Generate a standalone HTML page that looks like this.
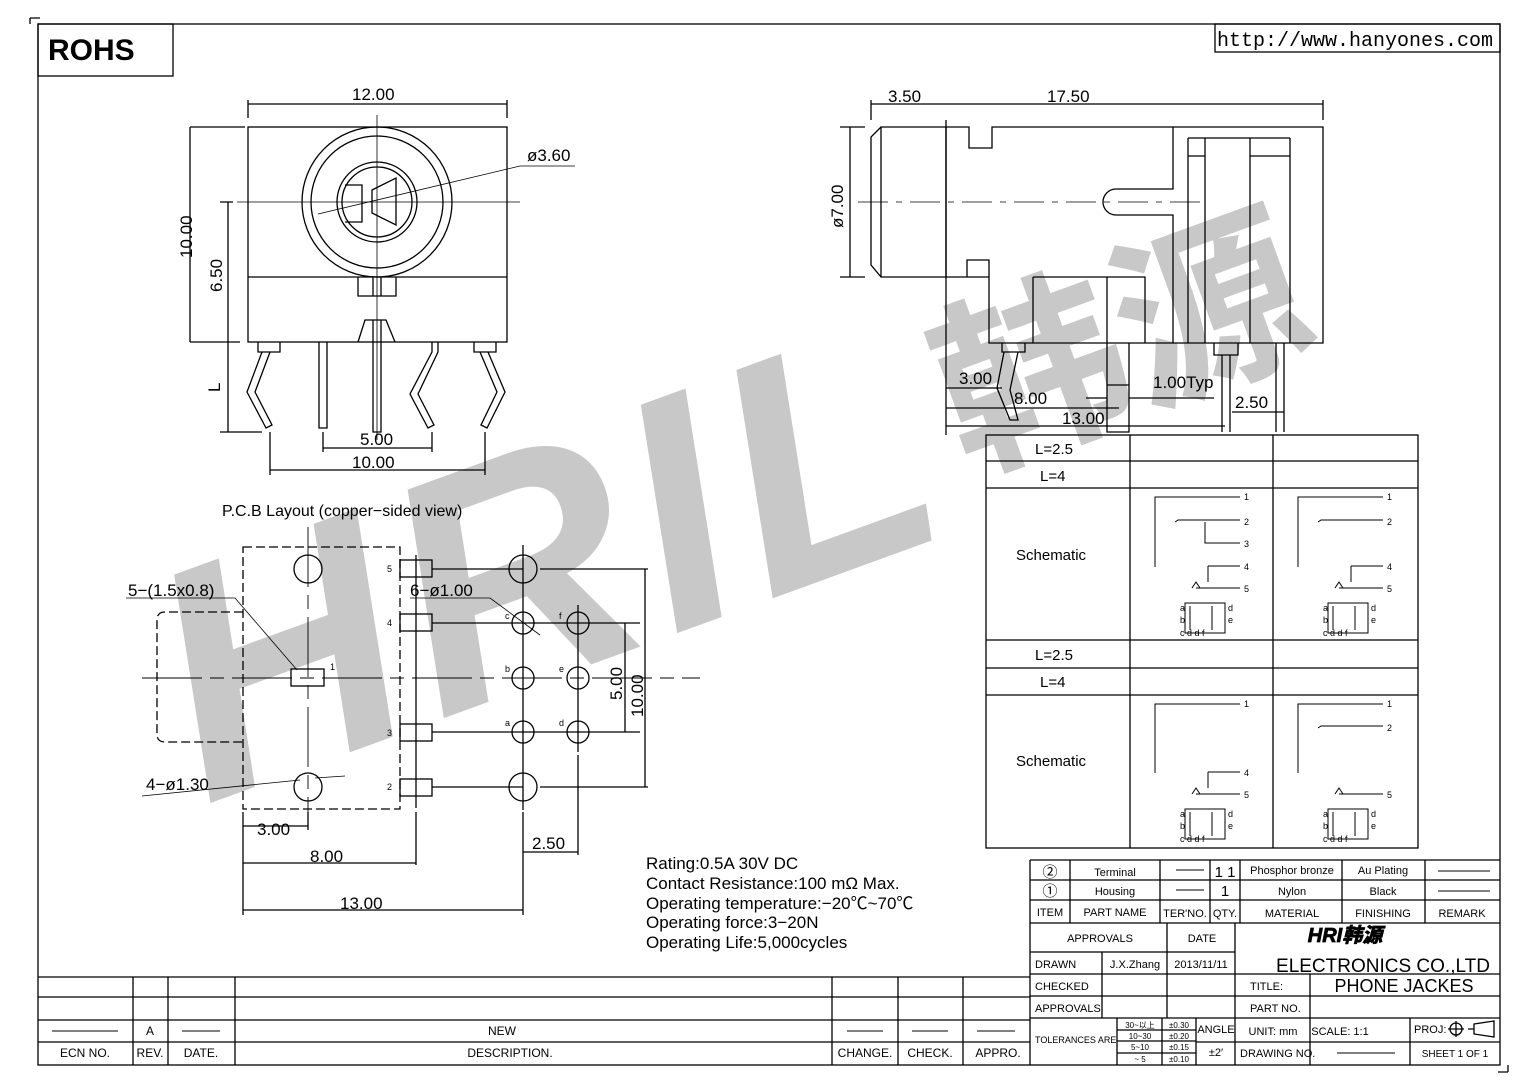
<!DOCTYPE html>
<html><head><meta charset="utf-8"><style>
html,body{margin:0;padding:0;background:#fff}
svg{display:block}
text{font-family:"Liberation Sans","Noto Sans CJK SC",sans-serif;fill:#000}
</style></head><body>
<svg width="1538" height="1087" viewBox="0 0 1538 1087" xmlns="http://www.w3.org/2000/svg">
<!-- watermark -->
<g fill="#c8c8c8">
<text x="0" y="0" font-size="330" font-weight="bold" font-style="italic" letter-spacing="10" transform="translate(205,805) rotate(-20)" style="fill:#c8c8c8">HRIL</text>
<text x="0" y="0" font-size="190" font-weight="bold" transform="translate(965,470) rotate(-20)" style="fill:#c8c8c8;font-family:'Noto Sans CJK SC',sans-serif">韩源</text>
</g>
<g fill="none" stroke="#000" stroke-width="1.3">
<!-- frame -->
<rect x="38" y="24" width="1462" height="1041"/>
<path d="M30 18 V24 M30 18 H40 M1508 1072 V1065 M1508 1072 H1498"/>
<rect x="38" y="24" width="135" height="52"/>
<rect x="1215" y="24" width="285" height="28"/>
<!-- front view -->
<rect x="248" y="127" width="259" height="215"/>
<line x1="248" y1="277" x2="507" y2="277"/>
<circle cx="377" cy="202" r="75"/><circle cx="377" cy="202" r="66"/>
<circle cx="377" cy="202" r="40"/><circle cx="377" cy="202" r="35"/>
<path d="M345 185 H362 V222 H345 M372 190 L396 178 V225 L372 213 Z"/>
<path d="M358 277 V296 H396 V277 M373 277 V296 M381 277 V296"/>
<path d="M358 342 L365 320 H386 L395 342"/>
<path d="M373 320 V432 H381 V320"/>
<path d="M258 342 V352 H280 V342 M474 342 V352 H496 V342"/>
<path d="M262 352 L247 392 L266 428 L272 425 L255 392 L270 352"/>
<path d="M488 352 L505 392 L487 428 L481 425 L497 392 L480 352"/>
<path d="M319 342 V428 H327 V342"/>
<path d="M432 342 V352 L410 394 L428 428 L434 425 L418 394 L438 352 V342"/>
<path d="M377 115 V440" stroke-width="0.8"/>
<path d="M237 202 H520" stroke-width="0.8"/>
<path d="M248 118 V100 M507 118 V100 M248 104 H507"/>
<path d="M245 127 H190 M190 342 H240 M190 127 V342 M233 202 H220 M228 202 V432 M220 432 H262"/>
<path d="M270 432 V475 M485 432 V475 M323 432 V452 M432 432 V452 M323 448 H432 M270 470 H485"/>
<path d="M318 214 L520 166 H575" stroke-width="0.8"/>
</g>
<g font-size="17">
<text x="352" y="100">12.00</text>
<text x="527" y="161">ø3.60</text>
<text x="360" y="445">5.00</text>
<text x="352" y="468">10.00</text>
<text transform="translate(192,258) rotate(-90)">10.00</text>
<text transform="translate(222,292) rotate(-90)">6.50</text>
<text transform="translate(220,392) rotate(-90)">L</text>
</g>
<text x="48" y="60" font-size="30" font-weight="bold">ROHS</text>
<text x="1217" y="46" font-size="20" style="font-family:'Liberation Mono',monospace">http://www.hanyones.com</text>
<!-- side view -->
<g fill="none" stroke="#000" stroke-width="1.3">
<path d="M881 127 L871 137 V265 L881 277 H946 V127 Z M881 127 V277"/>
<path d="M946 127 H969 V148 H992 V127 H1173 V189 H1116 A13 13 0 0 0 1116 215 H1173 V343 H989 V277 H967 V260 H989 V277 M946 277 H967"/>
<path d="M1173 127 H1323 V343 H1173 M1188 138 V343 M1205 138 V343 M1250 138 V343 M1290 138 V343 M1188 138 H1290 M1188 156 H1205 M1250 156 H1290"/>
<path d="M1033 277 V343 M1107 277 V343 M1033 277 H1145 V343"/>
<path d="M1002 343 V352 H1025 V343 M1004 352 L997 388 L1010 420 H1018 L1010 390 L1018 352"/>
<path d="M1107 343 V432 H1129 V343 M1107 385 H1129"/>
<path d="M1214 343 V355 H1238 V343 M1222 355 V432 M1230 355 V432 M1276 343 V432 M1284 343 V432"/>
<path d="M858 202 H1200" stroke-width="0.8" stroke-dasharray="30 8 6 8"/>
<path d="M871 104 H946 M946 104 H1323 M871 120 V100 M946 120 V435 M1323 120 V100"/>
<path d="M850 127 V277 M840 127 H865 M840 277 H865"/>
<path d="M946 388 H1002 M946 408 H1119 M946 426 H1225 M1086 398 H1107 M1129 398 H1214 M1232 412 H1284"/>
</g>
<g font-size="17">
<text x="888" y="102">3.50</text>
<text x="1047" y="102">17.50</text>
<text transform="translate(843,228) rotate(-90)">ø7.00</text>
<text x="959" y="384">3.00</text>
<text x="1014" y="404">8.00</text>
<text x="1062" y="424">13.00</text>
<text x="1153" y="388">1.00Typ</text>
<text x="1235" y="408">2.50</text>
</g>
<!-- schematic table -->
<g fill="none" stroke="#000" stroke-width="1.3">
<rect x="986" y="435" width="432" height="413"/>
<path d="M986 461 H1418 M986 488 H1418 M986 640 H1418 M986 668 H1418 M986 695 H1418 M1130 435 V848 M1273 435 V848"/>
<g stroke-width="1">
<path d="M1155 567 V497 H1240 M1175 522 L1178 520 H1240 M1205 522 V543 H1240 M1208 566 H1240 M1208 566 V582 M1196 588 H1240 M1192 588 L1196 582 L1200 588"/>
<path d="M1185 603 H1225 V633 H1185 Z M1190 606 V630 M1212 606 V630"/>
<path d="M1298 567 V497 H1383 M1318 522 L1321 520 H1383 M1351 566 H1383 M1351 566 V582 M1339 588 H1383 M1335 588 L1339 582 L1343 588"/>
<path d="M1328 603 H1368 V633 H1328 Z M1333 606 V630 M1355 606 V630"/>
<path d="M1155 773 V704 H1240 M1208 772 H1240 M1208 772 V788 M1196 794 H1240 M1192 794 L1196 788 L1200 794"/>
<path d="M1185 809 H1225 V839 H1185 Z M1190 812 V836 M1212 812 V836"/>
<path d="M1298 773 V704 H1383 M1318 728 L1321 726 H1383 M1339 794 H1383 M1335 794 L1339 788 L1343 794"/>
<path d="M1328 809 H1368 V839 H1328 Z M1333 812 V836 M1355 812 V836"/>
</g>
</g>
<g font-size="15">
<text x="1035" y="454">L=2.5</text><text x="1040" y="481">L=4</text>
<text x="1016" y="560">Schematic</text>
<text x="1035" y="660">L=2.5</text><text x="1040" y="687">L=4</text>
<text x="1016" y="766">Schematic</text>
</g>
<g font-size="9">
<text x="1244" y="500">1</text><text x="1244" y="525">2</text><text x="1244" y="547">3</text><text x="1244" y="570">4</text><text x="1244" y="592">5</text>
<text x="1387" y="500">1</text><text x="1387" y="525">2</text><text x="1387" y="570">4</text><text x="1387" y="592">5</text>
<text x="1244" y="707">1</text><text x="1244" y="776">4</text><text x="1244" y="798">5</text>
<text x="1387" y="707">1</text><text x="1387" y="731">2</text><text x="1387" y="798">5</text>
<text x="1180" y="611">a</text><text x="1180" y="623">b</text><text x="1180" y="636">c d d f</text><text x="1228" y="611">d</text><text x="1228" y="623">e</text>
<text x="1323" y="611">a</text><text x="1323" y="623">b</text><text x="1323" y="636">c d d f</text><text x="1371" y="611">d</text><text x="1371" y="623">e</text>
<text x="1180" y="817">a</text><text x="1180" y="829">b</text><text x="1180" y="842">c d d f</text><text x="1228" y="817">d</text><text x="1228" y="829">e</text>
<text x="1323" y="817">a</text><text x="1323" y="829">b</text><text x="1323" y="842">c d d f</text><text x="1371" y="817">d</text><text x="1371" y="829">e</text>
</g>
<!-- PCB layout -->
<text x="222" y="516" font-size="16">P.C.B Layout (copper−sided view)</text>
<g fill="none" stroke="#000" stroke-width="1.3">
<rect x="243" y="547" width="157" height="262" stroke-dasharray="9 4"/>
<path d="M243 612 H165 Q157 612 157 620 V734 Q157 742 165 742 H243" stroke-dasharray="9 4"/>
<circle cx="308" cy="569" r="14"/><circle cx="308" cy="787" r="14"/>
<path d="M308 527 V825 M142 678 H700" stroke-width="0.9" stroke-dasharray="60 8 14 8"/>
<rect x="291" y="669" width="33" height="17"/>
<path d="M416 555 V808"/>
<rect x="400" y="560" width="32" height="17"/><rect x="400" y="614" width="32" height="17"/>
<rect x="400" y="724" width="32" height="17"/><rect x="400" y="779" width="32" height="17"/>
<path d="M432 569 H523 M432 623 H640 M432 732 H640 M432 787 H523"/>
<circle cx="523" cy="569" r="14"/><circle cx="523" cy="787" r="14"/>
<circle cx="523" cy="623" r="11"/><circle cx="523" cy="678" r="11"/><circle cx="523" cy="732" r="11"/>
<circle cx="578" cy="623" r="11"/><circle cx="578" cy="678" r="11"/><circle cx="578" cy="732" r="11"/>
<path d="M523 545 V810 M578 605 V752"/>
<path d="M540 569 H648 M540 787 H648 M645 569 V787 M625 623 V732"/>
<path d="M243 812 V915 M308 812 V830 M416 812 V865 M523 812 V915 M578 755 V855"/>
<path d="M243 826 H308 M243 863 H416 M243 910 H523 M523 852 H578"/>
<path d="M126 598 H235 L297 670 M410 598 H490 L540 635 M142 796 L300 780 M315 778 L345 776" stroke-width="0.8"/>
</g>
<g font-size="17">
<text x="128" y="596">5−(1.5x0.8)</text>
<text x="410" y="596">6−ø1.00</text>
<text x="146" y="790">4−ø1.30</text>
<text x="257" y="835">3.00</text>
<text x="310" y="862">8.00</text>
<text x="340" y="909">13.00</text>
<text x="532" y="849">2.50</text>
<text transform="translate(622,700) rotate(-90)">5.00</text>
<text transform="translate(643,717) rotate(-90)">10.00</text>
</g>
<g font-size="9">
<text x="387" y="572">5</text><text x="387" y="626">4</text><text x="330" y="670">1</text><text x="387" y="736">3</text><text x="387" y="790">2</text>
<text x="505" y="619">c</text><text x="559" y="619">f</text><text x="505" y="672">b</text><text x="559" y="672">e</text><text x="505" y="726">a</text><text x="559" y="726">d</text>
</g>
<g font-size="17">
<text x="646" y="869">Rating:0.5A 30V DC</text>
<text x="646" y="889">Contact Resistance:100 mΩ Max.</text>
<text x="646" y="909">Operating temperature:−20℃~70℃</text>
<text x="646" y="928">Operating force:3−20N</text>
<text x="646" y="948">Operating Life:5,000cycles</text>
</g>
<!-- revision block -->
<g fill="none" stroke="#000" stroke-width="1.3">
<path d="M38 977 H1030 M38 997 H1030 M38 1020 H1030 M38 1042 H1030"/>
<path d="M133 977 V1065 M168 977 V1065 M235 977 V1065 M832 977 V1065 M898 977 V1065 M963 977 V1065"/>
<path d="M52 1031 H118 M182 1031 H220 M847 1031 H883 M912 1031 H948 M977 1031 H1015" stroke-width="1"/>
</g>
<g font-size="12" text-anchor="middle">
<text x="150" y="1035">A</text><text x="502" y="1035">NEW</text>
<text x="85" y="1057">ECN NO.</text><text x="150" y="1057">REV.</text><text x="201" y="1057">DATE.</text>
<text x="510" y="1057">DESCRIPTION.</text><text x="865" y="1057">CHANGE.</text><text x="930" y="1057">CHECK.</text><text x="998" y="1057">APPRO.</text>
</g>
<!-- title block -->
<g fill="none" stroke="#000" stroke-width="1.3">
<path d="M1030 860 H1500 M1030 880 H1500 M1030 900 H1500 M1030 923 H1500 M1030 952 H1235 M1030 974 H1500 M1030 996 H1500 M1030 1018 H1500"/>
<path d="M1030 860 V1065 M1070 860 V923 M1160 860 V923 M1210 860 V923 M1240 860 V923 M1342 860 V923 M1425 860 V923"/>
<path d="M1102 952 V1018 M1167 923 V1018 M1235 923 V1065 M1310 974 V1018 M1310 1018 V1065 M1410 1018 V1065"/>
<path d="M1117 1018 V1065 M1162 1018 V1065 M1196 1018 V1065 M1117 1030 H1196 M1117 1041 H1196 M1117 1053 H1196 M1196 1042 H1235 M1235 1042 H1500"/>
<path d="M1176 870 H1204 M1176 890 H1204 M1438 871 H1490 M1438 891 H1490 M1337 1053 H1395" stroke-width="1"/>
<circle cx="1456" cy="1029" r="6"/><path d="M1448 1029 H1464 M1456 1021 V1037 M1468 1029 H1474 M1474 1024 L1494 1021 V1037 L1474 1034 Z"/>
</g>
<g font-size="11" text-anchor="middle">
<text x="1050" y="877" font-size="15">②</text><text x="1050" y="896" font-size="15">①</text>
<text x="1115" y="876">Terminal</text><text x="1115" y="895">Housing</text>
<text x="1225" y="877" font-size="15">1 1</text><text x="1225" y="896" font-size="15">1</text>
<text x="1292" y="874">Phosphor bronze</text><text x="1383" y="874">Au Plating</text>
<text x="1292" y="895">Nylon</text><text x="1383" y="895">Black</text>
<text x="1050" y="916">ITEM</text><text x="1115" y="916">PART NAME</text><text x="1185" y="917">TER'NO.</text><text x="1225" y="917">QTY.</text>
<text x="1292" y="917">MATERIAL</text><text x="1383" y="917">FINISHING</text><text x="1462" y="917">REMARK</text>
<text x="1100" y="942">APPROVALS</text><text x="1202" y="942">DATE</text>
<text x="1135" y="968">J.X.Zhang</text><text x="1201" y="968">2013/11/11</text>
<text x="1345" y="942" font-size="20" font-weight="bold" font-style="italic" fill="#fff" stroke="#000" stroke-width="0.8">HRI韩源</text>
<text x="1383" y="972" font-size="19">ELECTRONICS CO.,LTD</text>
<text x="1404" y="992" font-size="18">PHONE JACKES</text>
<text x="1340" y="1035">SCALE: 1:1</text>
<text x="1273" y="1035">UNIT: mm</text>
<text x="1216" y="1033">ANGLE</text><text x="1216" y="1056">±2′</text>
<text x="1455" y="1057" font-size="10">SHEET 1 OF 1</text>
<g font-size="8"><text x="1140" y="1028">30~以上</text><text x="1179" y="1028">±0.30</text><text x="1140" y="1039">10~30</text><text x="1179" y="1039">±0.20</text><text x="1140" y="1050">5~10</text><text x="1179" y="1050">±0.15</text><text x="1140" y="1062">~ 5</text><text x="1179" y="1062">±0.10</text></g>
</g>
<g font-size="11">
<text x="1035" y="968">DRAWN</text><text x="1035" y="990">CHECKED</text><text x="1035" y="1012">APPROVALS</text>
<text x="1035" y="1043" font-size="9">TOLERANCES ARE</text>
<text x="1250" y="990">TITLE:</text><text x="1250" y="1012">PART NO.</text>
<text x="1240" y="1057">DRAWING NO.</text><text x="1414" y="1033">PROJ:</text>
</g>
</svg>
</body></html>
